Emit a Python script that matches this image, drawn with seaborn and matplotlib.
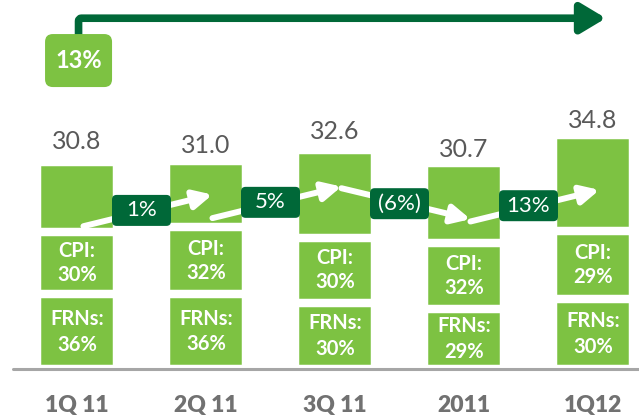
import matplotlib
matplotlib.use("Agg")
import matplotlib.pyplot as plt
import seaborn as sns
from matplotlib.patches import FancyBboxPatch, FancyArrowPatch

categories = ["1Q 11", "2Q 11", "3Q 11", "2011", "1Q12"]
totals = [30.8, 31.0, 32.6, 30.7, 34.8]
cpi_pct = [30, 32, 30, 32, 29]
frn_pct = [36, 36, 30, 29, 30]
growth = [1, 5, -6, 13]
growth_labels = ["1%", "5%", "(6%)", "13%"]
overall_label = "13%"

GREEN = "#7DC242"
DARK = "#006838"

# layout (pixels per data unit on each axis)
PX_X, PX_Y = 129.0, 6.72
label_lift = [1.9, 1.15, 1.6, 0.85, 1.0]
box_y = [23.6, 24.8, 24.6, 24.3]

sns.set_theme(style="white")
plt.rcParams["font.family"] = ["Lato", "DejaVu Sans"]

fig = plt.figure(figsize=(6.39, 4.18), dpi=100)
ax = fig.add_axes([0, 0, 1, 1])

frn_vals = [t * f / 100 for t, f in zip(totals, frn_pct)]
cpi_vals = [t * c / 100 for t, c in zip(totals, cpi_pct)]
lower_vals = [f + c for f, c in zip(frn_vals, cpi_vals)]

# stacked look: draw cumulative layers, white edges make the gaps
for heights in [totals, lower_vals, frn_vals]:
    sns.barplot(x=categories, y=heights, color=GREEN, saturation=1,
                width=0.624, edgecolor="white", linewidth=6.1,
                errorbar=None, ax=ax)

ax.set_xlim(-77 / PX_X, (639 - 77) / PX_X)
ax.set_ylim(-49 / PX_Y, (418 - 49) / PX_Y)
ax.axis("off")

ax.axhline(0, xmin=13 / 639, xmax=1, color="#A6A6A6", lw=2.2, zorder=5)

for i, cat in enumerate(categories):
    ax.text(i, totals[i] + label_lift[i], f"{totals[i]:.1f}", ha="center",
            va="baseline", fontsize=18, color="#595959")
    ax.text(i, -6.35, cat, ha="center", va="baseline", fontsize=16.5,
            fontweight="heavy", color="#717171")
    ax.text(i, frn_vals[i] + cpi_vals[i] / 2, f"CPI:\n{cpi_pct[i]}%",
            ha="center", va="center", fontsize=14.5, fontweight="bold",
            color="white", linespacing=1.25, zorder=6)
    ax.text(i, frn_vals[i] / 2, f"FRNs:\n{frn_pct[i]}%",
            ha="center", va="center", fontsize=14.5, fontweight="bold",
            color="white", linespacing=1.35, zorder=6)

# growth arrows and boxes between bars
bw, bh = 59 / PX_X, 31 / PX_Y
for i, (g, lab) in enumerate(zip(growth, growth_labels)):
    xc, yc = i + 0.5, box_y[i]
    dy = 2.35 if g >= 0 else -2.3
    ax.annotate("", xy=(i + 1.05, yc + dy), xytext=(i + 0.05, yc - dy),
                arrowprops=dict(arrowstyle="-|>,head_length=11,head_width=5.5",
                                mutation_scale=1, color="white", lw=4.3,
                                shrinkA=0, shrinkB=0, joinstyle="round"),
                zorder=5.5)
    box = FancyBboxPatch((xc - bw / 2, yc - bh / 2), bw, bh,
                         boxstyle="round,pad=0,rounding_size=0.036",
                         mutation_aspect=PX_X / PX_Y, fc=DARK, ec="none",
                         zorder=6)
    ax.add_patch(box)
    ax.text(xc, yc, lab, ha="center", va="center", fontsize=16,
            color="white", zorder=7)

# overall growth arrow
tw, th = 67 / PX_X, 53 / PX_Y
tx, ty = 0.012, 45.9
arrow = FancyArrowPatch((tx, ty), (4.1, 52.2),
                        connectionstyle="angle,angleA=90,angleB=0,rad=3",
                        arrowstyle="-|>,head_length=15,head_width=9",
                        mutation_scale=1, color=DARK, lw=5.5,
                        shrinkA=0, shrinkB=0, joinstyle="round", zorder=6)
ax.add_patch(arrow)
top_box = FancyBboxPatch((tx - tw / 2, ty - th / 2), tw, th,
                         boxstyle="round,pad=0,rounding_size=0.06",
                         mutation_aspect=PX_X / PX_Y, fc=GREEN, ec="none",
                         zorder=7)
ax.add_patch(top_box)
ax.text(tx, ty, overall_label, ha="center", va="center", fontsize=17,
        fontweight="bold", color="white", zorder=8)

fig.savefig("out.png", dpi=100)
